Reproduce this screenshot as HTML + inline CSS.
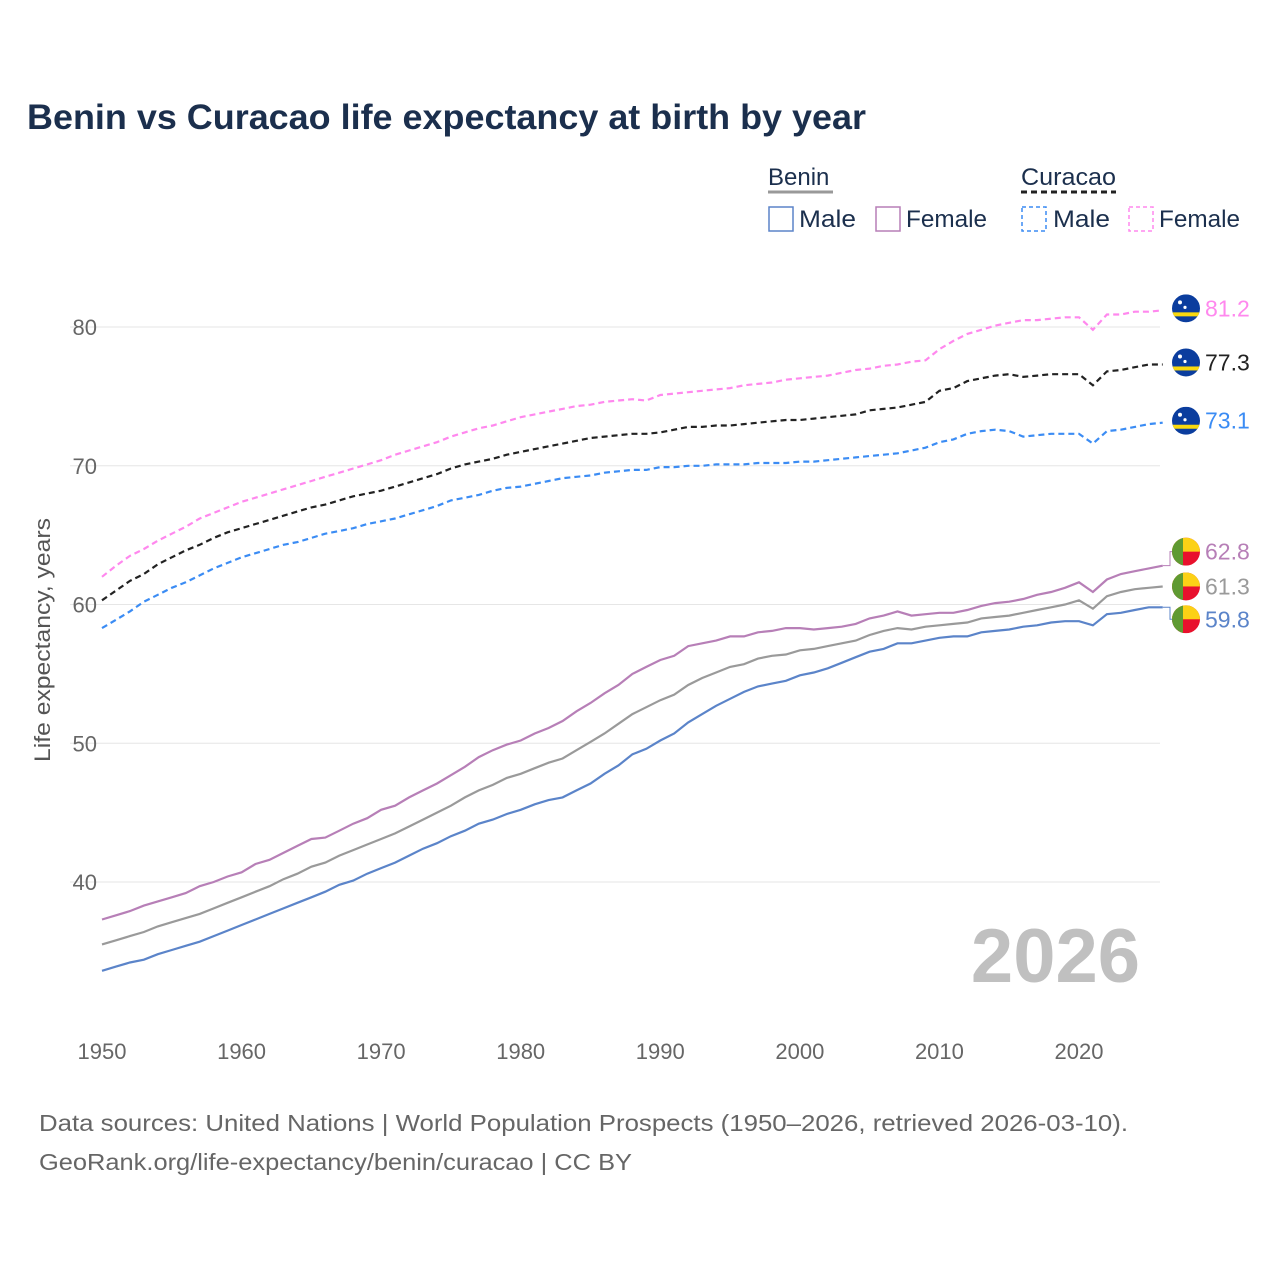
<!DOCTYPE html>
<html><head><meta charset="utf-8"><style>
body{margin:0;background:#fff;font-family:"Liberation Sans",sans-serif}
svg text{font-family:"Liberation Sans",sans-serif}
</style></head><body>
<svg id="chart" width="1280" height="1280" viewBox="0 0 1280 1280" xmlns="http://www.w3.org/2000/svg">
<rect width="1280" height="1280" fill="#fff"/>
<text x="27" y="129" font-size="35" font-weight="bold" fill="#1b2f4d" textLength="839" lengthAdjust="spacingAndGlyphs">Benin vs Curacao life expectancy at birth by year</text>
<g font-size="24" fill="#1b2f4d">
<text x="768" y="185" fill="#1b2f4d">Benin</text>
<line x1="768" y1="192" x2="833" y2="192" stroke="#999" stroke-width="3"/>
<text x="1021" y="185" fill="#1b2f4d" textLength="95" lengthAdjust="spacingAndGlyphs">Curacao</text>
<line x1="1021" y1="192" x2="1116" y2="192" stroke="#222" stroke-width="3" stroke-dasharray="6,4"/>
<g><rect x="769" y="207" width="24" height="24" fill="none" stroke="#5b84c9" stroke-width="1.5"/><text x="799" y="227" textLength="57" lengthAdjust="spacingAndGlyphs">Male</text></g>
<g><rect x="876" y="207" width="24" height="24" fill="none" stroke="#b77fb7" stroke-width="1.5"/><text x="906" y="227" textLength="81" lengthAdjust="spacingAndGlyphs">Female</text></g>
<g><rect x="1022" y="207" width="24" height="24" fill="none" stroke="#3b8cf4" stroke-width="1.5" stroke-dasharray="4,3"/><text x="1053" y="227" textLength="57" lengthAdjust="spacingAndGlyphs">Male</text></g>
<g><rect x="1129" y="207" width="24" height="24" fill="none" stroke="#ff88ee" stroke-width="1.5" stroke-dasharray="4,3"/><text x="1159" y="227" textLength="81" lengthAdjust="spacingAndGlyphs">Female</text></g>
</g>
<text transform="translate(50,640) rotate(-90)" text-anchor="middle" font-size="22" fill="#555" textLength="244" lengthAdjust="spacingAndGlyphs">Life expectancy, years</text>
<text x="1140" y="982" text-anchor="end" font-size="76" font-weight="bold" fill="#c0c0c0">2026</text>
<g id="grid"></g><g id="series"></g><g id="endlabels"></g>
<text x="39" y="1131" font-size="23" fill="#666" textLength="1089" lengthAdjust="spacingAndGlyphs">Data sources: United Nations | World Population Prospects (1950–2026, retrieved 2026-03-10).</text>
<text x="39" y="1170" font-size="23" fill="#666" textLength="593" lengthAdjust="spacingAndGlyphs">GeoRank.org/life-expectancy/benin/curacao | CC BY</text>
</svg>
<script>
const startYear = 1950;
const xTicks = [1950,1960,1970,1980,1990,2000,2010,2020];
const yTicks = [40,50,60,70,80];
const beninMale = [33.6,33.9,34.2,34.4,34.8,35.1,35.4,35.7,36.1,36.5,36.9,37.3,37.7,38.1,38.5,38.9,39.3,39.8,40.1,40.6,41.0,41.4,41.9,42.4,42.8,43.3,43.7,44.2,44.5,44.9,45.2,45.6,45.9,46.1,46.6,47.1,47.8,48.4,49.2,49.6,50.2,50.7,51.5,52.1,52.7,53.2,53.7,54.1,54.3,54.5,54.9,55.1,55.4,55.8,56.2,56.6,56.8,57.2,57.2,57.4,57.6,57.7,57.7,58.0,58.1,58.2,58.4,58.5,58.7,58.8,58.8,58.5,59.3,59.4,59.6,59.8,59.8];
const beninTotal = [35.5,35.8,36.1,36.4,36.8,37.1,37.4,37.7,38.1,38.5,38.9,39.3,39.7,40.2,40.6,41.1,41.4,41.9,42.3,42.7,43.1,43.5,44.0,44.5,45.0,45.5,46.1,46.6,47.0,47.5,47.8,48.2,48.6,48.9,49.5,50.1,50.7,51.4,52.1,52.6,53.1,53.5,54.2,54.7,55.1,55.5,55.7,56.1,56.3,56.4,56.7,56.8,57.0,57.2,57.4,57.8,58.1,58.3,58.2,58.4,58.5,58.6,58.7,59.0,59.1,59.2,59.4,59.6,59.8,60.0,60.3,59.7,60.6,60.9,61.1,61.2,61.3];
const beninFemale = [37.3,37.6,37.9,38.3,38.6,38.9,39.2,39.7,40.0,40.4,40.7,41.3,41.6,42.1,42.6,43.1,43.2,43.7,44.2,44.6,45.2,45.5,46.1,46.6,47.1,47.7,48.3,49.0,49.5,49.9,50.2,50.7,51.1,51.6,52.3,52.9,53.6,54.2,55.0,55.5,56.0,56.3,57.0,57.2,57.4,57.7,57.7,58.0,58.1,58.3,58.3,58.2,58.3,58.4,58.6,59.0,59.2,59.5,59.2,59.3,59.4,59.4,59.6,59.9,60.1,60.2,60.4,60.7,60.9,61.2,61.6,60.9,61.8,62.2,62.4,62.6,62.8];
const curacaoMale = [58.3,58.9,59.5,60.2,60.7,61.2,61.6,62.1,62.6,63.0,63.4,63.7,64.0,64.3,64.5,64.8,65.1,65.3,65.5,65.8,66.0,66.2,66.5,66.8,67.1,67.5,67.7,67.9,68.2,68.4,68.5,68.7,68.9,69.1,69.2,69.3,69.5,69.6,69.7,69.7,69.9,69.9,70.0,70.0,70.1,70.1,70.1,70.2,70.2,70.2,70.3,70.3,70.4,70.5,70.6,70.7,70.8,70.9,71.1,71.3,71.7,71.9,72.3,72.5,72.6,72.5,72.1,72.2,72.3,72.3,72.3,71.6,72.5,72.6,72.8,73.0,73.1];
const curacaoTotal = [60.3,61.0,61.7,62.2,62.9,63.4,63.9,64.3,64.8,65.2,65.5,65.8,66.1,66.4,66.7,67.0,67.2,67.5,67.8,68.0,68.2,68.5,68.8,69.1,69.4,69.8,70.1,70.3,70.5,70.8,71.0,71.2,71.4,71.6,71.8,72.0,72.1,72.2,72.3,72.3,72.4,72.6,72.8,72.8,72.9,72.9,73.0,73.1,73.2,73.3,73.3,73.4,73.5,73.6,73.7,74.0,74.1,74.2,74.4,74.6,75.4,75.6,76.1,76.3,76.5,76.6,76.4,76.5,76.6,76.6,76.6,75.8,76.8,76.9,77.1,77.3,77.3];
const curacaoFemale = [62.0,62.8,63.5,64.0,64.6,65.1,65.6,66.2,66.6,67.0,67.4,67.7,68.0,68.3,68.6,68.9,69.2,69.5,69.8,70.1,70.4,70.8,71.1,71.4,71.7,72.1,72.4,72.7,72.9,73.2,73.5,73.7,73.9,74.1,74.3,74.4,74.6,74.7,74.8,74.7,75.1,75.2,75.3,75.4,75.5,75.6,75.8,75.9,76.0,76.2,76.3,76.4,76.5,76.7,76.9,77.0,77.2,77.3,77.5,77.6,78.4,79.0,79.5,79.8,80.1,80.3,80.5,80.5,80.6,80.7,80.7,79.8,80.9,80.9,81.1,81.1,81.2];

const NS="http://www.w3.org/2000/svg";
const X=y=>102+(y-1950)*13.957;
const Y=v=>882-(v-40)*13.875;
function mk(tag,attrs,parent){const e=document.createElementNS(NS,tag);for(const k in attrs)e.setAttribute(k,attrs[k]);parent.appendChild(e);return e;}
const grid=document.getElementById('grid');
yTicks.forEach(v=>{
  const l=mk('line',{x1:70,x2:1160,y1:Y(v),y2:Y(v),stroke:'#e6e6e6','stroke-width':1},grid);
  
  
  const t=mk('text',{x:97,y:Y(v)+8,'text-anchor':'end','font-size':22,fill:'#666'},grid);t.textContent=v;
  
  
});
xTicks.forEach(v=>{
  const t=mk('text',{x:X(v),y:1059,'text-anchor':'middle','font-size':22,fill:'#666'},grid);t.textContent=v;
  
  
});
const ser=document.getElementById('series');
const defs=[
 ['curacao-female-line',curacaoFemale,'#ff88ee','6,4'],
 ['curacao-total-line',curacaoTotal,'#222','6,4'],
 ['curacao-male-line',curacaoMale,'#3b8cf4','6,4'],
 ['benin-female-line',beninFemale,'#b77fb7',''],
 ['benin-total-line',beninTotal,'#9a9a9a',''],
 ['benin-male-line',beninMale,'#5b84c9',''],
];
defs.forEach(([name,arr,col,dash])=>{
  const d=arr.map((v,i)=>(i?'L':'M')+X(startYear+i).toFixed(1)+','+Y(v).toFixed(1)).join('');
  const p=mk('path',{d:d,fill:'none',stroke:col,'stroke-width':2.2},ser);
  if(dash)p.setAttribute('stroke-dasharray',dash);
  
  
});
const el=document.getElementById('endlabels');
const lastX=X(2026);
function flag(cx,cy,kind){
  const g=mk('g',{},el);
  const cp='cp'+cx+'_'+Math.round(cy);
  const c=mk('clipPath',{id:cp},g);mk('circle',{cx:cx,cy:cy,r:14},c);
  const f=mk('g',{'clip-path':'url(#'+cp+')'},g);
  if(kind==='cw'){mk('rect',{x:cx-14,y:cy-14,width:28,height:28,fill:'#0b3d9e'},f);mk('rect',{x:cx-14,y:cy+4,width:28,height:4,fill:'#f9d90f'},f);
    mk('circle',{cx:cx-6,cy:cy-6,r:2,fill:'#fff'},f);mk('circle',{cx:cx-1,cy:cy-1,r:1.6,fill:'#fff'},f);}
  else{mk('rect',{x:cx-14,y:cy-14,width:28,height:28,fill:'#e8112d'},f);mk('rect',{x:cx-14,y:cy-14,width:28,height:14,fill:'#fcd116'},f);mk('rect',{x:cx-14,y:cy-14,width:11,height:28,fill:'#5f9a32'},f);}
  
  
}
const ends=[
 ['cw',curacaoFemale,'#ff88ee',-2],['cw',curacaoTotal,'#222',-2],['cw',curacaoMale,'#3b8cf4',-2],
 ['bj',beninFemale,'#b77fb7',-14],['bj',beninTotal,'#9a9a9a',0],['bj',beninMale,'#5b84c9',12]
];
ends.forEach(([k,arr,col,off])=>{
  const v=arr[arr.length-1];const y=Y(v)+off;
  if(Math.abs(off)>5){mk('path',{d:`M${lastX},${Y(v)}H1170V${y}H1174`,fill:'none',stroke:col,'stroke-width':1},el);}
  flag(1186,y,k);
  const t=mk('text',{x:1205,y:y+8,'font-size':23,fill:col},el);t.textContent=v.toFixed(1);
  
  
});
</script>
</body></html>
